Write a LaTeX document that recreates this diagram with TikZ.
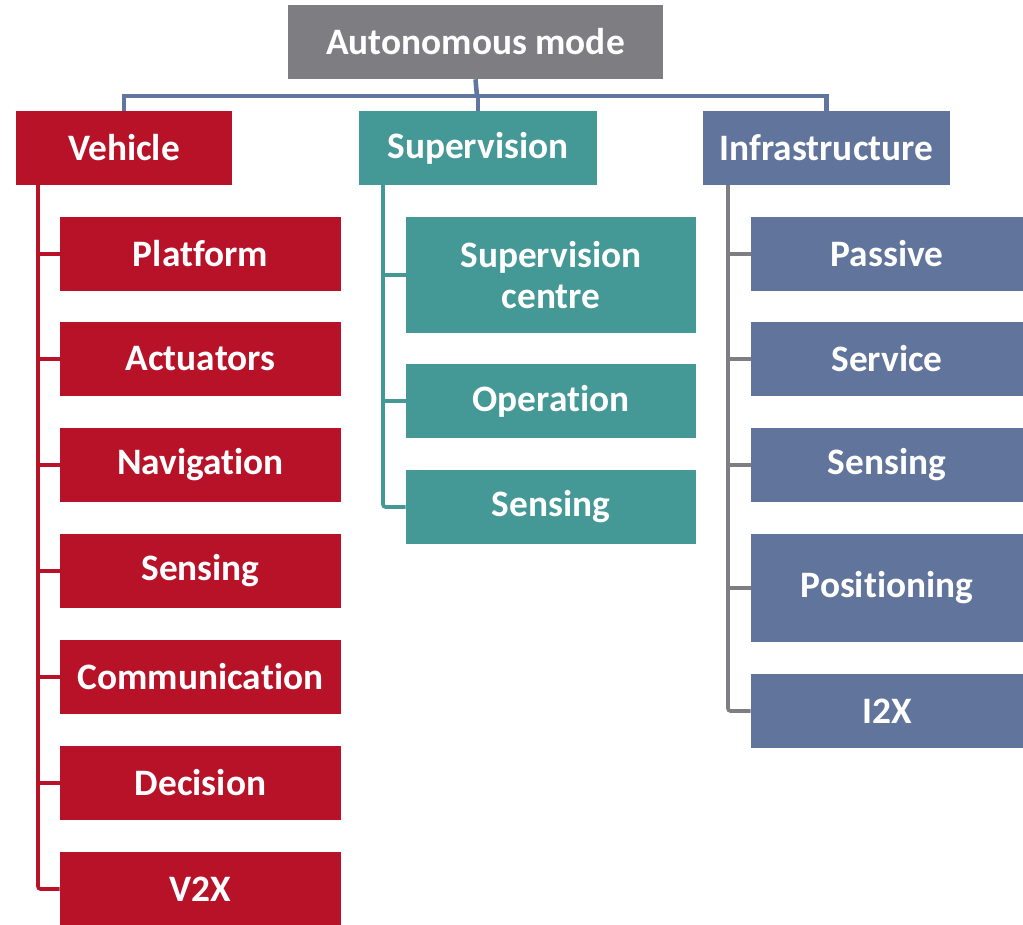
\documentclass[tikz,border=0pt]{standalone}
\usepackage{fontspec}
\setmainfont{Carlito}[Ligatures={NoCommon}]
\definecolor{cred}{HTML}{B81229}
\definecolor{cteal}{HTML}{449896}
\definecolor{cblue}{HTML}{61749C}
\definecolor{cgray}{HTML}{7E7D82}
\definecolor{cbus}{HTML}{6075A0}
\begin{document}
\begin{tikzpicture}[x=0.75pt,y=-0.75pt,
  box/.style={draw=none,inner sep=0pt,text=white,align=center,
    font=\fontsize{28}{31}\selectfont\bfseries,minimum height=55.5pt},
  vbox/.style={box,fill=cred,minimum width=210.75pt},
  sbox/.style={box,fill=cteal,minimum width=217.5pt},
  ibox/.style={box,fill=cblue,minimum width=204pt},
  bus/.style={draw=cbus,line width=3.4pt},
  vline/.style={draw=cred,line width=2.8pt,rounded corners=2pt},
  sline/.style={draw=cteal,line width=2.8pt,rounded corners=2pt},
  iline/.style={draw=cgray,line width=2.8pt,rounded corners=2pt}]
\useasboundingbox (0,0) rectangle (1023,924);
\coordinate (busc) at (477,96);
\coordinate (vt) at (38,185);
\coordinate (st) at (383,185);
\coordinate (it) at (728,185);
% root and level 1
\node[box,fill=cgray,minimum width=281.25pt] (root) at (475.5,42) {Autonomous mode};
\node[box,fill=cred,minimum width=162pt] (veh) at (124,148) {Vehicle};
\node[box,fill=cteal,minimum width=178.5pt] (sup) at (478,148) {Supervision};
\node[box,fill=cblue,minimum width=185.25pt] (inf) at (826.5,148) {Infrastructure};
% vehicle children
\node[vbox] (v1) at (200.5,254) {Platform};
\node[vbox] (v2) at (200.5,359) {Actuators};
\node[vbox] (v3) at (200.5,465) {Navigation};
\node[vbox] (v4) at (200.5,571) {Sensing};
\node[vbox] (v5) at (200.5,677) {Communication};
\node[vbox] (v6) at (200.5,783) {Decision};
\node[vbox] (v7) at (200.5,889) {V2X};
% supervision children
\node[sbox,minimum height=87pt] (s1) at (551,275) {Supervision\\centre};
\node[sbox] (s2) at (551,401) {Operation};
\node[sbox] (s3) at (551,507) {Sensing};
% infrastructure children
\node[ibox] (i1) at (887,254) {Passive};
\node[ibox] (i2) at (887,359) {Service};
\node[ibox] (i3) at (887,465) {Sensing};
\node[ibox,minimum height=81pt] (i4) at (887,588) {Positioning};
\node[ibox] (i5) at (887,711) {I2X};
% bus
\draw[bus] (root.south) -- (busc);
\draw[bus] (veh.north) |- (busc) -| (inf.north);
\draw[bus] (sup.north) -- (sup.north |- busc);
% trunks
\draw[vline] (vt) |- (v7.west);
\foreach \n in {v1,v2,v3,v4,v5,v6} \draw[vline] (\n.west) -- (\n.west -| vt);
\draw[sline] (st) |- (s3.west);
\foreach \n in {s1,s2} \draw[sline] (\n.west) -- (\n.west -| st);
\draw[iline] (it) |- (i5.west);
\foreach \n in {i1,i2,i3,i4} \draw[iline] (\n.west) -- (\n.west -| it);
\end{tikzpicture}
\end{document}
